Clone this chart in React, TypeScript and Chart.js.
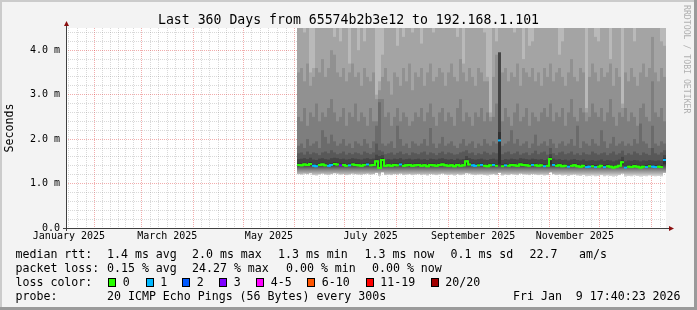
import { useEffect, useRef } from 'react';
import { Chart, registerables } from 'chart.js';

Chart.register(...registerables);

// ---------------- text ----------------
const TITLE = 'Last 360 Days from 65574b2b3e12 to 192.168.1.101';
const Y_TITLE = 'Seconds';
const WATERMARK = 'RRDTOOL / TOBI OETIKER';

const LEGEND_RTT_LABEL = 'median rtt:';
const LEGEND_RTT_ITEMS = ['1.4 ms avg', '2.0 ms max', '1.3 ms min', '1.3 ms now', '0.1 ms sd', '22.7', 'am/s'];
const LEGEND_LOSS_LABEL = 'packet loss:';
const LEGEND_LOSS_ITEMS = ['0.15 % avg', '24.27 % max', '0.00 % min', '0.00 % now'];
const LEGEND_COLOR_LABEL = 'loss color:';
const LOSS_CLASS_LABELS = ['0', '1', '2', '3', '4-5', '6-10', '11-19', '20/20'];
const LOSS_CLASS_MAX = [0, 1, 2, 3, 5, 10, 19, 20];
const LOSS_CLASS_COLORS = ['#26ff00', '#00b8ff', '#0059ff', '#7e00ff', '#ff00ff', '#ff5500', '#ff0000', '#a10000'];
const LEGEND_PROBE_LABEL = 'probe:';
const LEGEND_PROBE_ITEMS = ['20 ICMP Echo Pings (56 Bytes) every 300s', 'Fri Jan  9 17:40:23 2026'];

// ---------------- time axis ----------------
const DAY_MS = 86400000;
const SPAN_DAYS = 360;
const END_MS = Date.UTC(2026, 0, 9, 17, 40, 23);
const START_MS = END_MS - SPAN_DAYS * DAY_MS;
const X_LABEL_MONTHS: [number, number, string][] = [
  [2025, 0, 'January 2025'],
  [2025, 2, 'March 2025'],
  [2025, 4, 'May 2025'],
  [2025, 6, 'July 2025'],
  [2025, 8, 'September 2025'],
  [2025, 10, 'November 2025'],
];

// ---------------- value axis ----------------
const Y_MAX = 4.5; // ms
const Y_MINOR_STEP = 0.2;

// ---------------- data (12h-consolidated columns, ms) ----------------
const FIRST_COL_DAY = 139.5; // days after graph start
const COL_STEP_DAYS = 1.8;

const medianRtt = [
  1.42,1.41,1.43,1.42,1.44,1.40,1.39,1.42,1.43,1.41,
  1.40,1.42,1.44,1.43,1.41,1.42,1.40,1.41,1.43,1.42,
  1.41,1.40,1.42,1.43,1.41,1.42,1.50,1.35,1.53,1.40,
  1.41,1.40,1.42,1.41,1.43,1.40,1.41,1.42,1.40,1.41,
  1.42,1.40,1.41,1.39,1.42,1.41,1.40,1.42,1.43,1.41,
  1.40,1.41,1.39,1.42,1.40,1.41,1.50,1.43,1.41,1.40,
  1.41,1.42,1.40,1.39,1.41,1.42,1.40,1.97,1.39,1.41,
  1.40,1.42,1.41,1.40,1.43,1.42,1.41,1.40,1.42,1.41,
  1.40,1.41,1.39,1.40,1.55,1.42,1.40,1.41,1.39,1.40,
  1.38,1.40,1.41,1.39,1.38,1.40,1.37,1.38,1.39,1.37,
  1.38,1.40,1.37,1.39,1.38,1.36,1.38,1.40,1.48,1.36,
  1.38,1.37,1.39,1.38,1.36,1.38,1.37,1.39,1.38,1.37,
  1.38,1.37,1.53,
];

const lossCount = [
  0,0,0,0,0,1,1,0,0,0,
  1,1,0,0,3,0,0,1,0,0,
  0,0,0,1,0,0,0,0,0,0,
  0,0,0,0,1,0,0,0,0,0,
  0,0,0,0,0,0,0,0,0,0,
  0,0,0,0,0,0,0,0,1,1,
  0,1,0,0,0,1,0,1,0,1,
  0,0,0,0,0,0,0,0,1,0,
  0,0,1,0,0,1,0,0,0,0,
  1,0,0,0,0,0,1,1,0,1,
  0,0,1,0,0,0,0,0,0,1,
  0,0,0,0,0,0,1,0,1,1,
  0,0,1,
];

// lowest ping
const ping1 = [
  1.21,1.20,1.22,1.21,1.23,1.19,1.18,1.21,1.22,1.20,
  1.19,1.21,1.23,1.22,1.20,1.21,1.19,1.20,1.22,1.21,
  1.20,1.19,1.21,1.22,1.20,1.21,1.24,1.17,1.25,1.19,
  1.20,1.19,1.21,1.20,1.22,1.19,1.20,1.21,1.19,1.20,
  1.21,1.19,1.20,1.18,1.21,1.20,1.19,1.21,1.22,1.20,
  1.19,1.20,1.18,1.21,1.19,1.20,1.23,1.22,1.20,1.19,
  1.20,1.21,1.19,1.18,1.20,1.21,1.19,1.24,1.18,1.20,
  1.19,1.21,1.20,1.19,1.22,1.21,1.20,1.19,1.21,1.20,
  1.19,1.20,1.18,1.19,1.25,1.21,1.19,1.20,1.18,1.19,
  1.17,1.19,1.20,1.18,1.17,1.19,1.16,1.17,1.18,1.16,
  1.17,1.19,1.16,1.18,1.17,1.15,1.17,1.19,1.22,1.15,
  1.17,1.16,1.18,1.17,1.15,1.17,1.16,1.18,1.17,1.16,
  1.17,1.16,1.24,
];

// upper smoke bounds, inner to outer
const ping11 = [
  1.46,1.45,1.47,1.46,1.48,1.44,1.43,1.46,1.47,1.45,
  1.44,1.46,1.48,1.47,1.45,1.46,1.44,1.45,1.47,1.46,
  1.45,1.44,1.46,1.47,1.45,1.46,1.54,1.45,1.57,1.44,
  1.45,1.44,1.46,1.45,1.47,1.44,1.45,1.46,1.44,1.45,
  1.46,1.44,1.45,1.43,1.46,1.45,1.44,1.46,1.47,1.45,
  1.44,1.45,1.43,1.46,1.44,1.45,1.54,1.47,1.45,1.44,
  1.45,1.46,1.44,1.43,1.45,1.46,1.44,2.16,1.43,1.45,
  1.44,1.46,1.45,1.44,1.47,1.46,1.45,1.44,1.46,1.45,
  1.44,1.45,1.43,1.44,1.59,1.46,1.44,1.45,1.43,1.44,
  1.42,1.44,1.45,1.43,1.42,1.44,1.41,1.42,1.43,1.41,
  1.42,1.44,1.41,1.43,1.42,1.40,1.42,1.44,1.52,1.40,
  1.42,1.41,1.43,1.42,1.40,1.42,1.41,1.43,1.42,1.41,
  1.42,1.41,1.57,
];

const ping12 = [
  1.55,1.56,1.57,1.55,1.58,1.54,1.53,1.56,1.57,1.55,
  1.54,1.57,1.58,1.57,1.55,1.56,1.54,1.55,1.57,1.56,
  1.55,1.54,1.56,1.57,1.55,1.56,1.65,1.62,1.64,1.54,
  1.55,1.54,1.56,1.55,1.57,1.54,1.55,1.56,1.54,1.55,
  1.56,1.54,1.55,1.53,1.56,1.55,1.54,1.56,1.57,1.55,
  1.54,1.55,1.53,1.56,1.54,1.55,1.62,1.57,1.55,1.54,
  1.55,1.56,1.54,1.53,1.55,1.56,1.54,3.94,1.53,1.55,
  1.54,1.56,1.55,1.54,1.57,1.56,1.55,1.54,1.56,1.55,
  1.54,1.55,1.53,1.54,1.66,1.56,1.54,1.55,1.53,1.54,
  1.52,1.54,1.55,1.53,1.52,1.54,1.51,1.52,1.53,1.51,
  1.52,1.54,1.51,1.53,1.52,1.50,1.52,1.54,1.60,1.50,
  1.52,1.51,1.53,1.52,1.50,1.52,1.51,1.53,1.52,1.51,
  1.52,1.51,1.64,
];

const ping13 = [
  1.68,1.70,1.65,1.72,1.66,1.70,1.68,1.64,1.70,1.72,
  1.68,1.75,1.70,1.66,1.68,1.72,1.65,1.69,1.66,1.70,
  1.68,1.65,1.72,1.69,1.66,1.70,1.90,1.75,1.72,1.66,
  1.68,1.70,1.65,1.69,1.72,1.66,1.68,1.64,1.70,1.68,
  1.66,1.70,1.72,1.65,1.70,1.68,1.64,1.69,1.72,1.66,
  1.70,1.68,1.65,1.66,1.70,1.72,1.75,1.68,1.70,1.64,
  1.68,1.66,1.72,1.69,1.65,1.70,1.68,3.95,1.66,1.70,
  1.72,1.66,1.68,1.72,1.65,1.68,1.70,1.64,1.68,1.74,
  1.66,1.70,1.72,1.65,1.80,1.68,1.64,1.70,1.72,1.66,
  1.68,1.72,1.65,1.68,1.64,1.70,1.66,1.65,1.72,1.68,
  1.65,1.68,1.70,1.64,1.68,1.72,1.65,1.68,1.74,1.64,
  1.68,1.65,1.72,1.68,1.64,1.70,1.67,1.64,1.80,1.68,
  1.65,1.70,1.75,
];

const ping14 = [
  1.85,1.90,1.80,2.00,1.85,1.90,1.95,1.80,2.20,2.05,
  1.90,2.10,1.95,1.85,1.90,2.00,1.85,1.90,1.80,1.95,
  1.90,1.85,2.00,1.90,1.80,1.95,2.30,2.83,1.90,1.85,
  1.90,1.95,1.80,2.30,2.00,1.85,1.90,1.80,1.95,1.90,
  1.85,1.90,2.00,1.85,2.25,1.90,1.80,1.90,2.05,1.85,
  1.90,1.95,1.85,1.80,1.90,2.00,1.85,1.90,1.95,1.80,
  1.90,1.85,2.00,1.90,1.85,1.95,1.90,3.95,1.85,1.90,
  1.95,2.20,1.90,2.00,1.85,1.90,1.95,1.80,1.90,2.10,
  1.85,1.90,1.95,1.85,2.00,1.90,1.80,1.90,1.95,1.85,
  1.90,2.00,1.85,2.30,1.80,1.95,1.90,1.85,2.00,1.90,
  1.85,2.20,1.95,1.80,1.90,2.05,1.85,1.90,1.95,1.85,
  1.90,1.85,2.00,1.90,2.35,1.95,1.90,1.80,2.30,1.90,
  1.85,1.95,1.90,
];

const ping15 = [
  2.5,2.4,2.7,2.3,2.6,2.5,2.8,2.4,2.6,2.5,
  2.7,2.9,2.6,2.4,2.5,2.7,2.3,2.6,2.5,2.8,
  2.4,2.6,2.5,2.3,2.7,2.4,2.4,2.9,2.9,2.5,
  2.6,2.3,2.5,2.7,2.4,2.6,2.5,2.3,2.4,2.6,
  2.5,2.7,2.4,2.6,2.8,2.5,2.3,2.6,2.7,2.4,
  2.6,2.5,2.3,2.7,2.9,2.4,2.6,2.5,2.3,2.6,
  2.5,2.7,2.4,2.6,2.4,2.5,2.8,3.95,2.4,2.7,
  2.5,2.3,2.6,2.8,2.4,2.5,2.7,2.3,2.6,2.5,
  2.4,2.6,2.7,2.5,2.8,2.4,2.6,2.5,2.7,2.3,
  2.6,2.9,2.5,2.4,2.7,2.6,2.4,2.5,2.8,2.6,
  2.5,2.7,2.4,2.6,2.9,2.5,2.3,2.6,2.5,2.7,
  2.4,2.6,2.5,2.3,2.7,2.8,2.5,2.4,3.3,2.6,
  2.5,2.7,2.4,
];

const ping16 = [
  3.5,3.6,3.3,3.7,3.2,3.4,3.6,3.5,3.8,3.4,
  3.6,4.0,3.9,3.5,3.4,3.6,3.3,3.5,3.7,3.4,
  3.5,3.2,3.6,3.4,3.3,3.5,2.9,3.1,3.4,3.6,
  3.3,3.0,3.5,3.4,3.2,3.6,3.3,3.7,3.1,3.5,
  3.4,3.6,3.2,3.5,3.7,3.3,3.4,3.6,3.5,3.2,
  3.5,3.7,3.4,3.3,3.8,3.5,3.3,3.6,3.4,3.2,
  3.6,3.5,3.3,3.3,2.5,3.4,3.9,3.95,3.5,3.6,
  3.3,3.5,3.4,3.7,3.2,3.6,3.5,3.4,3.6,3.3,
  3.5,3.2,3.6,3.4,3.7,3.3,3.5,3.6,3.4,3.2,
  3.5,3.8,3.4,3.3,3.6,3.5,2.6,3.4,3.7,3.5,
  3.3,3.6,3.4,3.5,3.7,3.2,3.6,3.4,2.7,3.5,
  3.3,3.6,3.4,3.2,3.5,3.7,3.4,3.6,4.3,3.5,
  3.3,3.6,3.4,
];

const ping17 = [
  4.6,4.6,4.4,4.6,3.5,3.6,4.6,4.6,4.6,4.6,
  4.6,4.6,4.3,4.6,4.2,4.6,4.6,3.7,4.6,4.6,
  4.0,4.6,4.2,4.6,4.6,4.6,3.0,3.3,3.9,4.6,
  4.6,4.6,4.6,4.1,4.6,4.3,4.6,4.6,4.4,4.6,
  4.6,4.15,4.6,4.6,4.6,4.4,4.6,4.6,4.6,4.6,
  4.6,4.6,4.6,4.3,4.6,3.7,4.6,4.6,4.6,4.6,
  4.6,4.6,4.4,3.4,2.6,4.6,4.2,4.6,4.6,4.6,
  4.6,4.6,4.4,4.6,4.6,3.8,4.6,4.1,4.2,4.6,
  4.6,4.6,4.6,4.6,4.6,4.6,4.6,3.9,4.2,4.6,
  4.6,4.6,4.6,4.6,4.6,4.6,2.7,4.6,4.6,4.3,
  4.2,4.6,4.6,4.6,3.8,4.6,4.6,4.6,2.8,4.6,
  4.6,4.6,4.2,4.6,4.6,4.6,4.6,4.6,4.6,4.6,
  4.6,4.2,4.1,
];

// ---------------- styles ----------------
const FONT = '"DejaVu Sans Mono", monospace';
const BG = '#f3f3f3';
const SHADE_A = '#cbcbcb';
const SHADE_B = '#9a9a9a';
const AXIS_COLOR = '#404040';
const ARROW_COLOR = '#8b1010';
const MINOR_GRID = 'rgba(128,128,128,0.3)';
const MAJOR_GRID = 'rgba(215,0,0,0.32)';
// outermost visible pair first
const SMOKE_COLORS = ['#b9b9b9', '#a4a4a4', '#919191', '#7e7e7e', '#6b6b6b', '#585858', '#454545', '#323232'];
const LINE_HALF_MS = 0.0225;

function lossColor(n: number) {
  for (let i = 0; i < LOSS_CLASS_MAX.length; i++) if (n <= LOSS_CLASS_MAX[i]) return LOSS_CLASS_COLORS[i];
  return LOSS_CLASS_COLORS[LOSS_CLASS_COLORS.length - 1];
}

function dayOf(y: number, m: number) {
  return (Date.UTC(y, m, 1) - START_MS) / DAY_MS;
}

type XTick = { value: number; kind: 'major' | 'minor' | 'label'; text?: string };

function buildXTicks(): XTick[] {
  const ticks: XTick[] = [];
  for (let k = 0; k < 14; k++) {
    const y = 2025 + Math.floor(k / 12);
    const m = k % 12;
    const y2 = 2025 + Math.floor((k + 1) / 12);
    const m2 = (k + 1) % 12;
    const a = dayOf(y, m);
    const b = dayOf(y2, m2);
    if (a > 0 && a < SPAN_DAYS) ticks.push({ value: a, kind: 'major' });
    for (let i = 1; i < 6; i++) {
      const v = a + ((b - a) * i) / 6;
      if (v > 0 && v < SPAN_DAYS) ticks.push({ value: v, kind: 'minor' });
    }
  }
  for (const [y, m, text] of X_LABEL_MONTHS) {
    const a = dayOf(y, m);
    const b = dayOf(m === 11 ? y + 1 : y, (m + 1) % 12);
    ticks.push({ value: (a + b) / 2, kind: 'label', text });
  }
  return ticks.sort((p, q) => p.value - q.value);
}

const X_TICKS = buildXTicks();
const Y_GRID: number[] = [];
for (let i = 0; i * Y_MINOR_STEP < Y_MAX - 1e-9; i++) Y_GRID.push(Math.round(i * Y_MINOR_STEP * 10) / 10);

const framePlugin = {
  id: 'rrdFrame',
  beforeDraw(chart: any) {
    const { ctx, width, height, chartArea: a } = chart;
    ctx.save();
    ctx.fillStyle = BG;
    ctx.fillRect(0, 0, width, height);
    ctx.fillStyle = SHADE_A;
    ctx.fillRect(0, 0, width, 2);
    ctx.fillRect(0, 0, 2, height);
    ctx.fillStyle = SHADE_B;
    ctx.fillRect(0, height - 3, width, 3);
    ctx.fillRect(width - 3, 0, 3, height);
    ctx.fillStyle = '#ffffff';
    ctx.fillRect(a.left, a.top, a.right - a.left, a.bottom - a.top);
    ctx.restore();
  },
  afterDraw(chart: any) {
    const { ctx, chartArea: a } = chart;
    const x0 = Math.round(a.left) + 0.5;
    const y0 = Math.round(a.bottom) + 0.5;
    ctx.save();
    ctx.strokeStyle = AXIS_COLOR;
    ctx.lineWidth = 1;
    ctx.beginPath();
    ctx.moveTo(a.left - 3, y0);
    ctx.lineTo(a.right + 4, y0);
    ctx.moveTo(x0, a.bottom + 3);
    ctx.lineTo(x0, a.top - 3);
    ctx.stroke();
    ctx.fillStyle = ARROW_COLOR;
    ctx.beginPath();
    ctx.moveTo(x0, a.top - 7);
    ctx.lineTo(x0 - 2.5, a.top - 2);
    ctx.lineTo(x0 + 2.5, a.top - 2);
    ctx.closePath();
    ctx.fill();
    ctx.beginPath();
    ctx.moveTo(a.right + 8, y0);
    ctx.lineTo(a.right + 3, y0 - 2.5);
    ctx.lineTo(a.right + 3, y0 + 2.5);
    ctx.closePath();
    ctx.fill();
    ctx.restore();
  },
};

const textStyle: any = {
  position: 'absolute',
  fontFamily: FONT,
  fontSize: '11.6px',
  lineHeight: '14px',
  whiteSpace: 'pre',
  color: '#000',
  margin: 0,
};

const ROW_TOPS = [247, 261, 275, 289];
const RTT_X = [107, 192, 278, 364.5, 450.5, 529.5, 579];
const LOSS_X = [107, 192, 286, 372];
const BOX_X = [108, 145.5, 182, 219, 256, 307, 365.5, 430.5];
const PROBE_X = [107, 513];

export default function App() {
  const ref = useRef<HTMLCanvasElement>(null);

  useEffect(() => {
    const xs = medianRtt.map((_, i) => FIRST_COL_DAY + i * COL_STEP_DAYS);
    const uppers: (number[] | null)[] = [null, ping17, ping16, ping15, ping14, ping13, ping12, ping11];
    const barCommon = {
      type: 'bar' as const,
      grouped: false,
      barPercentage: 1,
      categoryPercentage: 1,
      borderWidth: 0,
      inflateAmount: 0,
    };
    const smokeSets = uppers.map((arr, k) => ({
      ...barCommon,
      label: 'smoke' + k,
      data: xs.map((x, i) => ({ x, y: [medianRtt[i], arr ? arr[i] : Y_MAX] })),
      backgroundColor: SMOKE_COLORS[k],
      order: 30 - k,
    }));
    const lowerSet = {
      ...barCommon,
      label: 'smoke-low',
      data: xs.map((x, i) => ({ x, y: [ping1[i], medianRtt[i]] })),
      backgroundColor: (c: any) => {
        const ch = c.chart;
        const ys = ch.scales && ch.scales.y;
        if (!ys) return '#6b6b6b';
        const top = ys.getPixelForValue(1.45);
        const bot = ys.getPixelForValue(1.16);
        if (!Number.isFinite(top) || !Number.isFinite(bot) || top === bot) return '#6b6b6b';
        const g = ch.ctx.createLinearGradient(0, top, 0, bot);
        g.addColorStop(0, '#303030');
        g.addColorStop(0.2, '#505050');
        g.addColorStop(0.45, '#7e7e7e');
        g.addColorStop(0.72, '#ababab');
        g.addColorStop(1, '#dedede');
        return g;
      },
      order: 10,
    };
    const medianBars = {
      ...barCommon,
      label: 'median',
      data: xs.map((x, i) => ({ x, y: [medianRtt[i] - LINE_HALF_MS, medianRtt[i] + LINE_HALF_MS] })),
      backgroundColor: lossCount.map(lossColor),
      order: 2,
    };
    const medianLine = {
      type: 'line' as const,
      label: 'median-line',
      data: xs.map((x, i) => ({ x, y: medianRtt[i] })),
      stepped: 'middle',
      borderWidth: 2,
      pointRadius: 0,
      borderColor: LOSS_CLASS_COLORS[0],
      segment: {
        borderColor: (c: any) =>
          lossCount[c.p0DataIndex] === lossCount[c.p1DataIndex] ? lossColor(lossCount[c.p0DataIndex]) : 'rgba(0,0,0,0)',
      },
      order: 1,
    };

    const chart = new Chart(ref.current as HTMLCanvasElement, {
      type: 'bar',
      data: { datasets: [medianLine, medianBars, lowerSet, ...smokeSets] as any },
      options: {
        animation: false,
        responsive: false,
        devicePixelRatio: 1,
        events: [],
        layout: { padding: 0 },
        plugins: {
          legend: { display: false },
          tooltip: { enabled: false },
          title: {
            display: true,
            text: TITLE,
            color: '#000',
            font: { family: FONT, size: 13.2, weight: 'normal', lineHeight: 1.2 },
            padding: { top: 12.16, bottom: 0 },
          },
        },
        scales: {
          x: {
            type: 'linear',
            min: 0,
            max: SPAN_DAYS,
            offset: false,
            position: 'bottom',
            z: 1,
            grid: {
              offset: false,
              drawTicks: false,
              lineWidth: 1,
              color: (c: any) => {
                const t = X_TICKS[c.index];
                if (!t || t.kind === 'label') return 'rgba(0,0,0,0)';
                return t.kind === 'major' ? MAJOR_GRID : MINOR_GRID;
              },
              borderDash: [1, 1],
            } as any,
            border: { display: false, dash: [1, 1] },
            ticks: {
              autoSkip: false,
              maxRotation: 0,
              minRotation: 0,
              padding: 2.5,
              color: '#000',
              font: { family: FONT, size: 10 },
              callback: (_v: any, i: number) => {
                const t = X_TICKS[i];
                return t && t.kind === 'label' ? (t.text as string) : '';
              },
            },
            afterBuildTicks: (s: any) => {
              s.ticks = X_TICKS.map((t) => ({ value: t.value }));
            },
            afterFit: (s: any) => {
              s.height = 82;
            },
          } as any,
          y: {
            type: 'linear',
            min: 0,
            max: Y_MAX,
            position: 'left',
            z: 1,
            grid: {
              drawTicks: false,
              lineWidth: 1,
              color: (c: any) => {
                const v = c.tick ? c.tick.value : 0;
                if (Math.abs(v) < 1e-9) return 'rgba(0,0,0,0)';
                return Math.abs(v - Math.round(v)) < 1e-6 ? MAJOR_GRID : MINOR_GRID;
              },
              borderDash: [1, 1],
            } as any,
            border: { display: false, dash: [1, 1] },
            ticks: {
              autoSkip: false,
              padding: 6,
              color: '#000',
              font: { family: FONT, size: 10 },
              callback: (v: any) => {
                const n = Number(v);
                if (Math.abs(n - Math.round(n)) > 1e-6) return '';
                return n === 0 ? '0.0' : n.toFixed(1) + ' m';
              },
            },
            title: {
              display: true,
              text: Y_TITLE,
              color: '#000',
              font: { family: FONT, size: 11.6 },
              padding: { top: 3.5, bottom: 0 },
            },
            afterBuildTicks: (s: any) => {
              s.ticks = Y_GRID.map((v) => ({ value: v }));
            },
            afterFit: (s: any) => {
              s.width = 66;
            },
          } as any,
          yr: {
            type: 'linear',
            position: 'right',
            display: true,
            grid: { display: false },
            ticks: { display: false },
            border: { display: false },
            afterFit: (s: any) => {
              s.width = 31;
            },
          } as any,
        },
      },
      plugins: [framePlugin as any],
    });
    return () => chart.destroy();
  }, []);

  return (
    <div style={{ position: 'absolute', left: 0, top: 0, width: 697, height: 310, overflow: 'hidden' }}>
      <canvas ref={ref} width={697} height={310} style={{ display: 'block', width: 697, height: 310 }} />
      <div
        style={{
          position: 'absolute',
          left: 682,
          top: 5,
          writingMode: 'vertical-rl',
          fontFamily: FONT,
          fontSize: '8.2px',
          lineHeight: '10px',
          color: '#b0b0b0',
          whiteSpace: 'pre',
        }}
      >
        {WATERMARK}
      </div>

      <span style={{ ...textStyle, left: 15.5, top: ROW_TOPS[0] }}>{LEGEND_RTT_LABEL}</span>
      {LEGEND_RTT_ITEMS.map((t, i) => (
        <span key={'r' + i} style={{ ...textStyle, left: RTT_X[i], top: ROW_TOPS[0] }}>{t}</span>
      ))}

      <span style={{ ...textStyle, left: 15.5, top: ROW_TOPS[1] }}>{LEGEND_LOSS_LABEL}</span>
      {LEGEND_LOSS_ITEMS.map((t, i) => (
        <span key={'l' + i} style={{ ...textStyle, left: LOSS_X[i], top: ROW_TOPS[1] }}>{t}</span>
      ))}

      <span style={{ ...textStyle, left: 15.5, top: ROW_TOPS[2] }}>{LEGEND_COLOR_LABEL}</span>
      {LOSS_CLASS_LABELS.map((t, i) => (
        <span key={'c' + i}>
          <span
            style={{
              position: 'absolute',
              left: BOX_X[i],
              top: 278,
              width: 8,
              height: 9,
              boxSizing: 'border-box',
              border: '1px solid #000',
              background: LOSS_CLASS_COLORS[i],
            }}
          />
          <span style={{ ...textStyle, left: BOX_X[i] + 14.8, top: ROW_TOPS[2] }}>{t}</span>
        </span>
      ))}

      <span style={{ ...textStyle, left: 15.5, top: ROW_TOPS[3] }}>{LEGEND_PROBE_LABEL}</span>
      {LEGEND_PROBE_ITEMS.map((t, i) => (
        <span key={'p' + i} style={{ ...textStyle, left: PROBE_X[i], top: ROW_TOPS[3] }}>{t}</span>
      ))}
    </div>
  );
}
